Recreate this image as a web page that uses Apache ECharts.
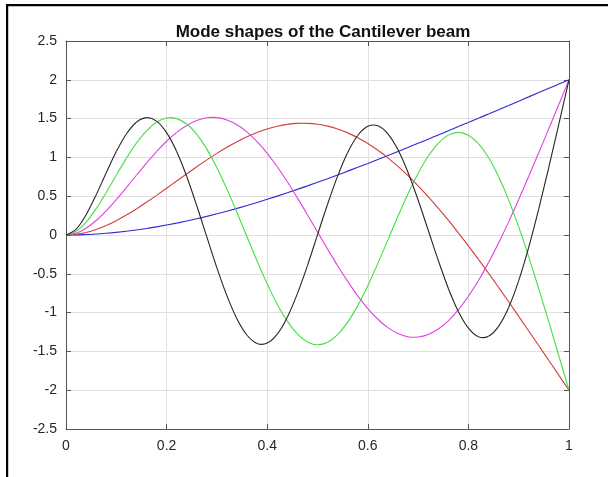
<!DOCTYPE html>
<html>
<head>
<meta charset="utf-8">
<script src="https://cdn.jsdelivr.net/npm/echarts@6/dist/echarts.min.js"></script>
<style>
  html, body { margin: 0; padding: 0; background: #ffffff; }
  #chart { width: 608px; height: 477px; }
</style>
</head>
<body>
<div id="chart"></div>
<script>
const titleText = 'Mode shapes of the Cantilever beam';
const xTicks = [0, 0.2, 0.4, 0.6, 0.8, 1];
const yTicks = [-2.5, -2, -1.5, -1, -0.5, 0, 0.5, 1, 1.5, 2, 2.5];

const xValues = [0, 0.02, 0.04, 0.06, 0.08, 0.10, 0.12, 0.14, 0.16, 0.18,
  0.20, 0.22, 0.24, 0.26, 0.28, 0.30, 0.32, 0.34, 0.36, 0.38,
  0.40, 0.42, 0.44, 0.46, 0.48, 0.50, 0.52, 0.54, 0.56, 0.58,
  0.60, 0.62, 0.64, 0.66, 0.68, 0.70, 0.72, 0.74, 0.76, 0.78,
  0.80, 0.82, 0.84, 0.86, 0.88, 0.90, 0.92, 0.94, 0.96, 0.98, 1.00];

const mode1 = [0, 0.001, 0.006, 0.012, 0.022, 0.034, 0.048, 0.064, 0.083, 0.105,
  0.128, 0.153, 0.180, 0.209, 0.240, 0.273, 0.307, 0.343, 0.381, 0.420,
  0.460, 0.501, 0.544, 0.588, 0.633, 0.679, 0.726, 0.774, 0.823, 0.872,
  0.922, 0.973, 1.025, 1.076, 1.129, 1.182, 1.235, 1.289, 1.342, 1.397,
  1.451, 1.505, 1.560, 1.615, 1.670, 1.725, 1.780, 1.835, 1.890, 1.945, 2.000];

const mode2 = [0, 0.009, 0.033, 0.072, 0.123, 0.185, 0.257, 0.336, 0.421, 0.510,
  0.602, 0.696, 0.788, 0.880, 0.968, 1.052, 1.131, 1.202, 1.266, 1.321,
  1.367, 1.402, 1.426, 1.439, 1.439, 1.427, 1.403, 1.366, 1.316, 1.254,
  1.179, 1.092, 0.994, 0.884, 0.764, 0.634, 0.495, 0.347, 0.191, 0.028,
  -0.140, -0.314, -0.492, -0.675, -0.860, -1.048, -1.237, -1.427, -1.618, -1.809, -2.000];

const mode3 = [0, 0.023, 0.088, 0.187, 0.312, 0.456, 0.611, 0.770, 0.927, 1.075,
  1.208, 1.322, 1.412, 1.475, 1.511, 1.513, 1.483, 1.420, 1.326, 1.202,
  1.052, 0.879, 0.686, 0.478, 0.261, 0.039, -0.181, -0.396, -0.598, -0.784,
  -0.948, -1.086, -1.194, -1.270, -1.311, -1.315, -1.282, -1.212, -1.106, -0.964,
  -0.790, -0.587, -0.356, -0.103, 0.169, 0.457, 0.756, 1.062, 1.373, 1.686, 2.000];

const mode4 = [0, 0.045, 0.165, 0.340, 0.548, 0.770, 0.987, 1.183, 1.342, 1.453,
  1.508, 1.500, 1.430, 1.297, 1.107, 0.868, 0.591, 0.289, -0.025, -0.336,
  -0.630, -0.892, -1.110, -1.274, -1.378, -1.414, -1.382, -1.283, -1.123, -0.910,
  -0.653, -0.366, -0.063, 0.242, 0.532, 0.794, 1.015, 1.182, 1.287, 1.322,
  1.286, 1.177, 0.998, 0.753, 0.453, 0.104, -0.282, -0.694, -1.123, -1.560, -2.000];

const mode5 = [0, 0.072, 0.260, 0.517, 0.802, 1.075, 1.301, 1.453, 1.512, 1.468,
  1.319, 1.076, 0.754, 0.377, -0.025, -0.423, -0.784, -1.082, -1.292, -1.398,
  -1.393, -1.277, -1.059, -0.756, -0.394, 0.002, 0.396, 0.759, 1.063, 1.282,
  1.400, 1.408, 1.304, 1.098, 0.806, 0.451, 0.064, -0.326, -0.686, -0.986,
  -1.201, -1.311, -1.304, -1.177, -0.934, -0.588, -0.156, 0.339, 0.877, 1.435, 2.000];

const seriesNames = ['Mode 1', 'Mode 2', 'Mode 3', 'Mode 4', 'Mode 5'];
const seriesValues = [mode1, mode2, mode3, mode4, mode5];
const seriesColors = ['#2a2ad0', '#d23a3a', '#e040e0', '#40e040', '#262626'];

const axisColor = '#555555';
const labelFont = { color: '#262626', fontSize: 14, fontFamily: 'Liberation Sans, Arial, sans-serif' };

// One data item per curve segment: the segment's two ends plus their neighbours,
// so each piece can be drawn as a smooth (Catmull-Rom) cubic through the read points.
function segments(ys) {
  const n = xValues.length;
  const out = [];
  for (let i = 0; i < n - 1; i++) {
    const a = Math.max(i - 1, 0), d = Math.min(i + 2, n - 1);
    out.push([xValues[a], ys[a], xValues[i], ys[i], xValues[i + 1], ys[i + 1], xValues[d], ys[d]]);
  }
  return out;
}

function makeRenderer(color) {
  return function (params, api) {
    const p0 = api.coord([api.value(0), api.value(1)]);
    const p1 = api.coord([api.value(2), api.value(3)]);
    const p2 = api.coord([api.value(4), api.value(5)]);
    const p3 = api.coord([api.value(6), api.value(7)]);
    return {
      type: 'bezierCurve',
      shape: {
        x1: p1[0], y1: p1[1], x2: p2[0], y2: p2[1],
        cpx1: p1[0] + (p2[0] - p0[0]) / 6, cpy1: p1[1] + (p2[1] - p0[1]) / 6,
        cpx2: p2[0] - (p3[0] - p1[0]) / 6, cpy2: p2[1] - (p3[1] - p1[1]) / 6
      },
      style: { stroke: color, lineWidth: 1.1, fill: 'none' },
      silent: true
    };
  };
}

const chart = echarts.init(document.getElementById('chart'), null, { renderer: 'canvas' });
chart.setOption({
  animation: false,
  backgroundColor: '#ffffff',
  title: {
    text: titleText,
    left: 318,
    top: 19,
    textAlign: 'center',
    textStyle: { fontSize: 17, fontWeight: 'bold', color: '#111111', fontFamily: 'Liberation Sans, Arial, sans-serif' }
  },
  grid: { left: 66, right: 39, top: 41, bottom: 48, containLabel: false },
  xAxis: [
    {
      type: 'value', min: xTicks[0], max: xTicks[xTicks.length - 1], interval: 0.2, position: 'bottom',
      axisLine: { show: true, onZero: false, lineStyle: { color: axisColor, width: 1 } },
      axisTick: { show: true, inside: true, length: 5, lineStyle: { color: axisColor } },
      axisLabel: Object.assign({ margin: 10 }, labelFont),
      splitLine: { show: true, lineStyle: { color: '#e0e0e0', width: 1 } }
    },
    {
      type: 'value', min: xTicks[0], max: xTicks[xTicks.length - 1], interval: 0.2, position: 'top',
      axisLine: { show: true, onZero: false, lineStyle: { color: axisColor, width: 1 } },
      axisTick: { show: true, inside: true, length: 5, lineStyle: { color: axisColor } },
      axisLabel: { show: false },
      splitLine: { show: false }
    }
  ],
  yAxis: [
    {
      type: 'value', min: yTicks[0], max: yTicks[yTicks.length - 1], interval: 0.5, position: 'left',
      axisLine: { show: true, onZero: false, lineStyle: { color: axisColor, width: 1 } },
      axisTick: { show: true, inside: true, length: 5, lineStyle: { color: axisColor } },
      axisLabel: Object.assign({ margin: 9 }, labelFont),
      splitLine: { show: true, lineStyle: { color: '#e0e0e0', width: 1 } }
    },
    {
      type: 'value', min: yTicks[0], max: yTicks[yTicks.length - 1], interval: 0.5, position: 'right',
      axisLine: { show: true, onZero: false, lineStyle: { color: axisColor, width: 1 } },
      axisTick: { show: true, inside: true, length: 5, lineStyle: { color: axisColor } },
      axisLabel: { show: false },
      splitLine: { show: false }
    }
  ],
  graphic: [
    { type: 'rect', shape: { x: 6, y: 4, width: 602, height: 2.2 }, style: { fill: '#000000' }, silent: true },
    { type: 'rect', shape: { x: 6, y: 4, width: 2.2, height: 473 }, style: { fill: '#000000' }, silent: true }
  ],
  series: seriesValues.map((vals, i) => ({
    name: seriesNames[i],
    type: 'custom',
    coordinateSystem: 'cartesian2d',
    xAxisIndex: 0,
    yAxisIndex: 0,
    renderItem: makeRenderer(seriesColors[i]),
    encode: { x: [0, 2, 4, 6], y: [1, 3, 5, 7] },
    data: segments(vals),
    clip: false,
    z: 3 + i
  }))
});
</script>
</body>
</html>
